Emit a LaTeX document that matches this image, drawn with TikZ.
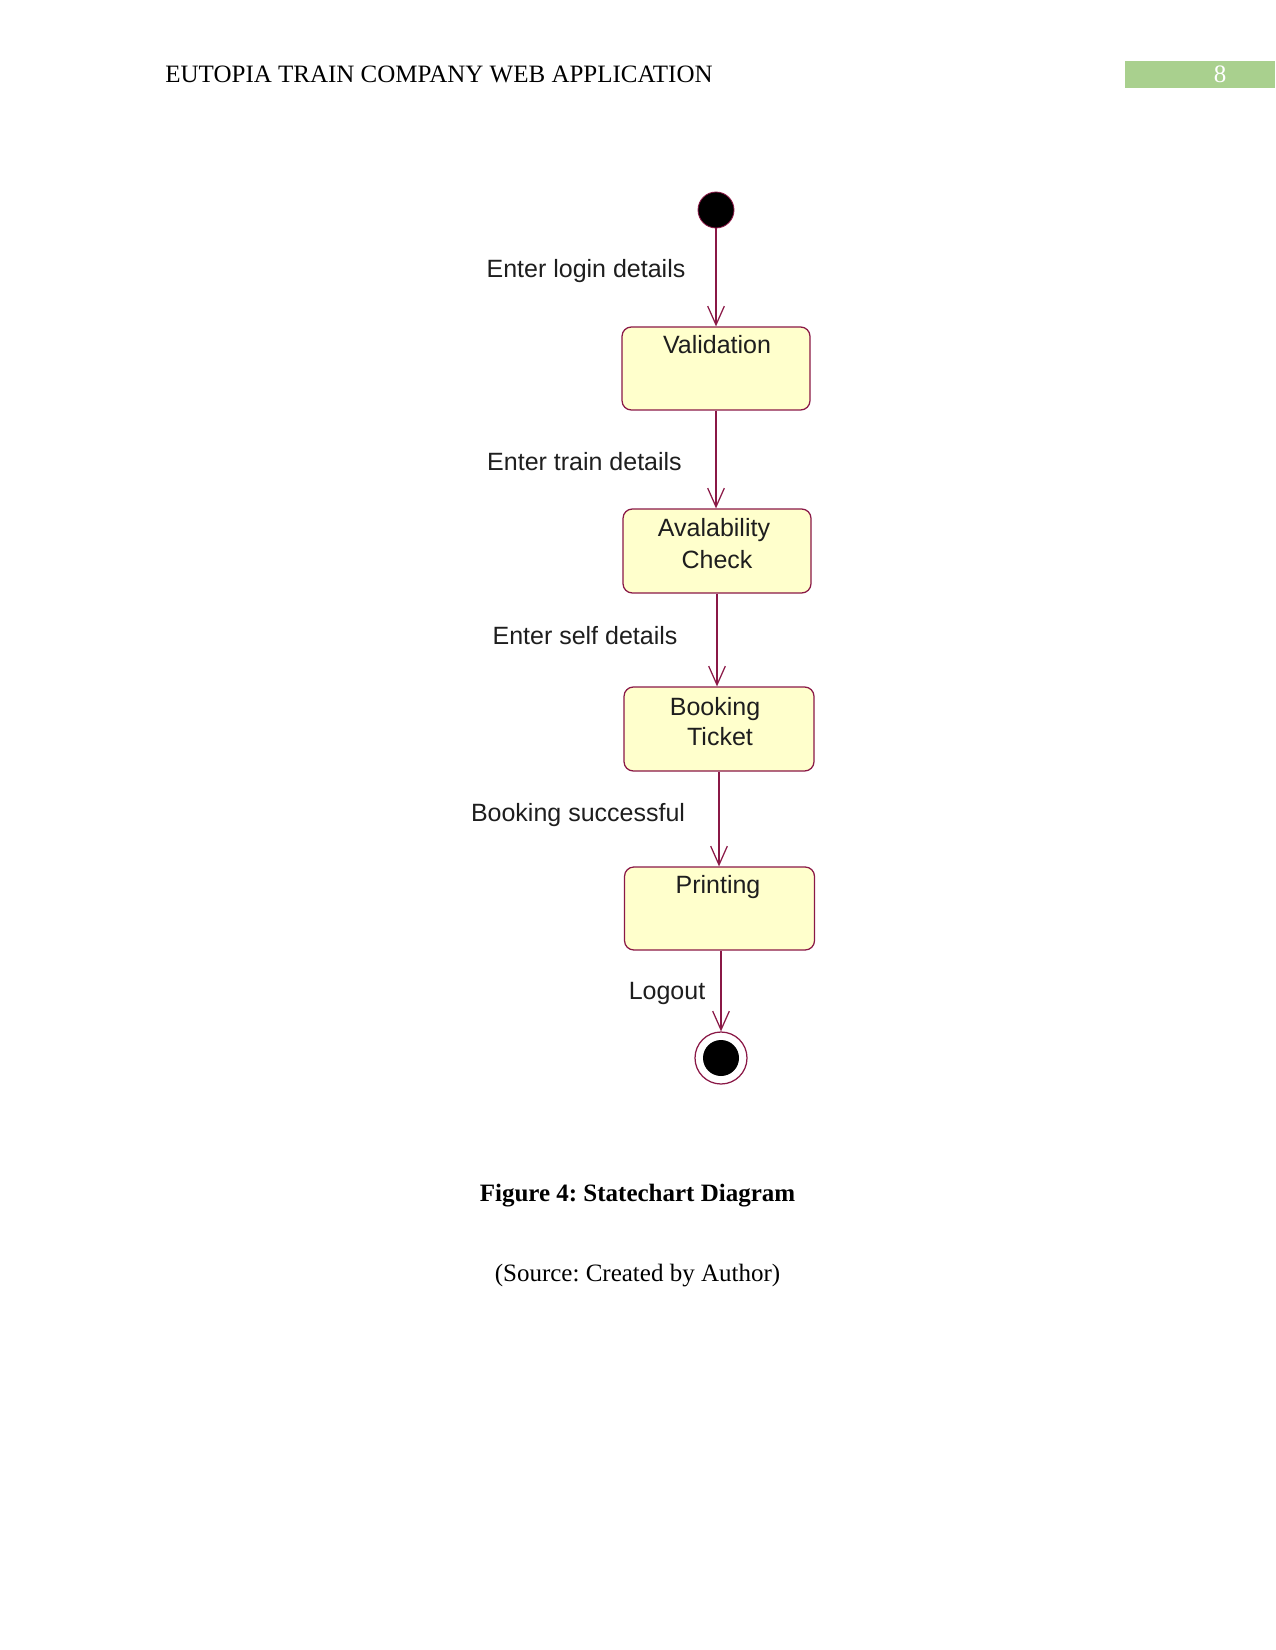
\documentclass[tikz,border=0pt]{standalone}
\usepackage{fontspec}
\setmainfont{Liberation Serif}
\newfontfamily\diagfont{Liberation Sans}
\usetikzlibrary{arrows.meta}
\definecolor{edgecol}{HTML}{8A1846}
\definecolor{statefill}{HTML}{FFFFCC}
\definecolor{hdrgreen}{HTML}{A9D08E}
\definecolor{txtcol}{HTML}{1E1E1E}
\frenchspacing
\begin{document}
\begin{tikzpicture}[x=0.48pt,y=-0.48pt,
  statebox/.style={draw=edgecol,fill=statefill,rounded corners=4.5pt,line width=0.6pt,inner sep=0pt},
  stxt/.style={font=\diagfont\fontsize{12}{14}\selectfont,text=txtcol,anchor=base,inner sep=0pt},
  trans/.style={draw=edgecol,line width=0.6pt,-{Straight Barb[length=9pt,width=8pt,line width=0.6pt]}},
  capt/.style={font=\fontsize{12}{14}\selectfont,anchor=base,inner sep=0pt}]
\useasboundingbox (0,0) rectangle (1275,1650);
% header
\node[capt,anchor=base west] (hdr) at (165,83) {EUTOPIA TRAIN COMPANY WEB APPLICATION};
\node[fill=hdrgreen,minimum width=150*0.48pt,minimum height=27*0.48pt,inner sep=0pt,anchor=north west] (pgbox) at (1125,61) {};
\node[capt,text=white] (pgnum) at (1220,83) {8};
% states
\node[circle,fill=black,draw=edgecol,line width=0.4pt,minimum size=36*0.48pt,inner sep=0pt] (init) at (716,210) {};
\node[statebox,minimum width=188*0.48pt,minimum height=83*0.48pt] (val) at (716,368.5) {};
\node[statebox,minimum width=188*0.48pt,minimum height=84*0.48pt] (avl) at (717,551) {};
\node[statebox,minimum width=190*0.48pt,minimum height=84*0.48pt] (bok) at (719,729) {};
\node[statebox,minimum width=190*0.48pt,minimum height=83*0.48pt] (prt) at (719.5,908.5) {};
\node[circle,draw=edgecol,line width=0.6pt,minimum size=52*0.48pt,inner sep=0pt] (fin) at (721,1058) {};
\node[circle,fill=black,minimum size=36*0.48pt,inner sep=0pt] (finin) at (721,1058) {};
% state texts
\node[stxt] (tval) at (717,354) {Validation};
\node[stxt] (tavl1) at (714,536) {Avalability};
\node[stxt] (tavl2) at (717,568) {Check};
\node[stxt] (tbok1) at (715,715) {Booking};
\node[stxt] (tbok2) at (720,745) {Ticket};
\node[stxt] (tprt) at (718,893) {Printing};
% transitions
\draw[trans] (init) -- (val.north -| init);
\draw[trans] (val.south) -- (avl.north -| val.south);
\draw[trans] (avl.south) -- (bok.north -| avl.south);
\draw[trans] (bok.south) -- (prt.north -| bok.south);
\draw[trans] (prt.south -| fin.north) -- (fin.north);
% transition labels
\node[stxt] (l1) at (586,278) {Enter login details};
\node[stxt] (l2) at (584.5,471) {Enter train details};
\node[stxt] (l3) at (585,644) {Enter self details};
\node[stxt] (l4) at (578,821) {Booking successful};
\node[stxt] (l5) at (667,999) {Logout};
% caption
\node[capt,font=\bfseries\fontsize{12}{14}\selectfont] (cap) at (637.5,1201) {Figure 4: Statechart Diagram};
\node[capt] (src) at (637.5,1281) {(Source: Created by Author)};
\end{tikzpicture}
\end{document}
